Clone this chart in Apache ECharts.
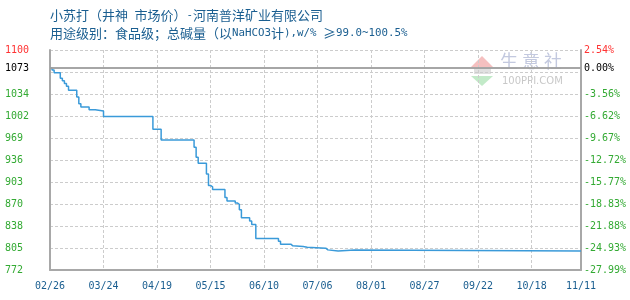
<!DOCTYPE html>
<html>
<head>
<meta charset="utf-8">
<script src="https://cdn.jsdelivr.net/npm/echarts@6/dist/echarts.min.js"></script>
<style>html,body{margin:0;padding:0;background:#fff}#c{width:630px;height:300px}</style>
</head>
<body>
<div id="c"></div>
<script>
// ---- data ----
var titleLine1 = '小苏打（井神{m| }市场价）{m|-}河南普洋矿业有限公司';
var titleLine2 = '用途级别：食品级；总碱量（以{m|NaHCO3}计{m|),w/% }≥{m|99.0~100.5%}';
var startDate = '2023-02-26';
var endDate = '2023-11-11';
var xTickLabels = ['02/26','03/24','04/19','05/15','06/10','07/06','08/01','08/27','09/22','10/18','11/11'];
var leftTickLabels = ['772','805','838','870','903','936','969','1002','1034','','1100'];
var rightTickLabels = ['-27.99%','-24.93%','-21.88%','-18.83%','-15.77%','-12.72%','-9.67%','-6.62%','-3.56%','','2.54%'];
var basePrice = 1073;
var baseLabelLeft = '1073';
var baseLabelRight = '0.00%';
var priceMin = 772, priceMax = 1100;
var priceDates = ['02/26','02/27','02/28','03/03','03/04','03/05','03/06','03/07','03/11','03/12','03/13','03/17','03/20','03/24',
  '04/17','04/21','05/07','05/08','05/09','05/13','05/14','05/15','05/16','05/22','05/23','05/27','05/28','05/29','05/30',
  '06/03','06/04','06/06','06/17','06/18','06/23','06/24','06/29','07/01','07/10','07/11','07/16','07/24','11/11'];
var priceValues = [1073,1070,1066,1058,1054,1050,1046,1040,1030,1020,1015,1011,1009,1001,
  982,966,955,940,931,915,898,896,892,880,875,872,870,862,850,
  845,840,819,815,810.5,808,807,806,804.5,802,800.3,802,800.3,800.3];

// ---- categories (every day) ----
var days = [];
(function(){
  var d = new Date(startDate + 'T00:00:00Z'), e = new Date(endDate + 'T00:00:00Z');
  while (d <= e) {
    var m = d.getUTCMonth() + 1, dd = d.getUTCDate();
    days.push((m < 10 ? '0' : '') + m + '/' + (dd < 10 ? '0' : '') + dd);
    d = new Date(d.getTime() + 86400000);
  }
})();

var tickSet = {};
xTickLabels.forEach(function(t){ tickSet[t] = true; });

var GREEN = '#33AA33', RED = '#FF3333', BLUE = '#1A5E90', AXIS = '#A8A8A8';
var MONO = 'DejaVu Sans Mono';
var CJK = 'Noto Sans CJK SC';

function tickColor(v){ return Math.round(v) === 10 ? RED : GREEN; }
function padRight(s, n){ while (s.length < n) s += '\u00a0'; return s; }

var titleStyle = {fontFamily: CJK, fontSize: 13, fontWeight: 'normal', color: BLUE, lineHeight: 15,
  rich: {m: {fontFamily: MONO, fontSize: 10.8, color: BLUE, lineHeight: 15}}};

var chart = echarts.init(document.getElementById('c'), null, {renderer: 'canvas'});
chart.setOption({
  animation: false,
  backgroundColor: '#fff',
  title: [
    {text: titleLine1, left: 50, top: 8, padding: 0, textStyle: titleStyle},
    {text: titleLine2, left: 50, top: 26, padding: 0, textStyle: titleStyle}
  ],
  graphic: [
    {type: 'polygon', shape: {points: [[482,56],[471,67],[493,67]]}, style: {fill: '#F5C0C0'}, z: 0},
    {type: 'rect', shape: {x: 474, y: 68, width: 17, height: 6}, style: {fill: '#E0E0E0'}, z: 0},
    {type: 'polygon', shape: {points: [[471,76],[493,76],[482,86]]}, style: {fill: '#C2EAC8'}, z: 0},
    {type: 'text', left: 500, top: 52, style: {text: '生 意 社', font: '18px "Noto Sans CJK SC"', fill: '#C3C9DF'}, z: 0},
    {type: 'text', left: 502, top: 76, style: {text: '100PPI.COM', font: '10px "DejaVu Sans"', fill: '#C8C8C8'}, z: 0}
  ],
  grid: {left: 50, right: 49, top: 50, bottom: 30, containLabel: false},
  xAxis: {
    type: 'category', data: days, boundaryGap: false,
    axisLine: {lineStyle: {color: AXIS, width: 2}},
    axisTick: {show: false},
    axisLabel: {interval: function(i, v){ return !!tickSet[v]; }, fontFamily: MONO, fontSize: 10, color: BLUE, margin: 11},
    splitLine: {show: true, interval: function(i, v){ return !!tickSet[v]; }, lineStyle: {color: '#CCCCCC', type: [3, 2], width: 1}}
  },
  yAxis: [
    {type: 'value', min: 0, max: 10, interval: 1, position: 'left',
     axisLine: {show: true, lineStyle: {color: AXIS, width: 2}}, axisTick: {show: false},
     splitLine: {show: true, lineStyle: {color: '#CCCCCC', type: [3, 2], width: 1}},
     axisLabel: {align: 'left', margin: 45, fontFamily: MONO, fontSize: 10, padding: [0, 0, 2, 0], color: tickColor,
       formatter: function(v){ return leftTickLabels[Math.round(v)] || ''; }}},
    {type: 'value', min: 0, max: 10, interval: 1, position: 'right',
     axisLine: {show: true, lineStyle: {color: AXIS, width: 2}}, axisTick: {show: false}, splitLine: {show: false},
     axisLabel: {align: 'left', margin: 3, fontFamily: MONO, fontSize: 10, padding: [0, 0, 2, 0], color: tickColor,
       formatter: function(v){ var t = rightTickLabels[Math.round(v)]; return t ? padRight(t, 7) : ''; }}},
    {type: 'value', min: priceMin, max: priceMax, show: false, position: 'left'}
  ],
  series: [{
    type: 'line', yAxisIndex: 2, step: 'end', showSymbol: false, symbol: 'none',
    data: priceDates.map(function(d, i){ return [d, priceValues[i]]; }),
    lineStyle: {color: '#3A9AD9', width: 1.5},
    markLine: {
      silent: true, symbol: 'none', precision: 0,
      lineStyle: {color: '#A0A0A0', type: 'solid', width: 1.5},
      data: [
        {yAxis: basePrice, label: {position: 'start', distance: 21, formatter: baseLabelLeft, color: '#000', fontFamily: MONO, fontSize: 10}},
        {yAxis: basePrice, label: {position: 'end', distance: 3, formatter: baseLabelRight, color: '#000', fontFamily: MONO, fontSize: 10}}
      ]
    }
  }]
});
</script>
</body>
</html>
